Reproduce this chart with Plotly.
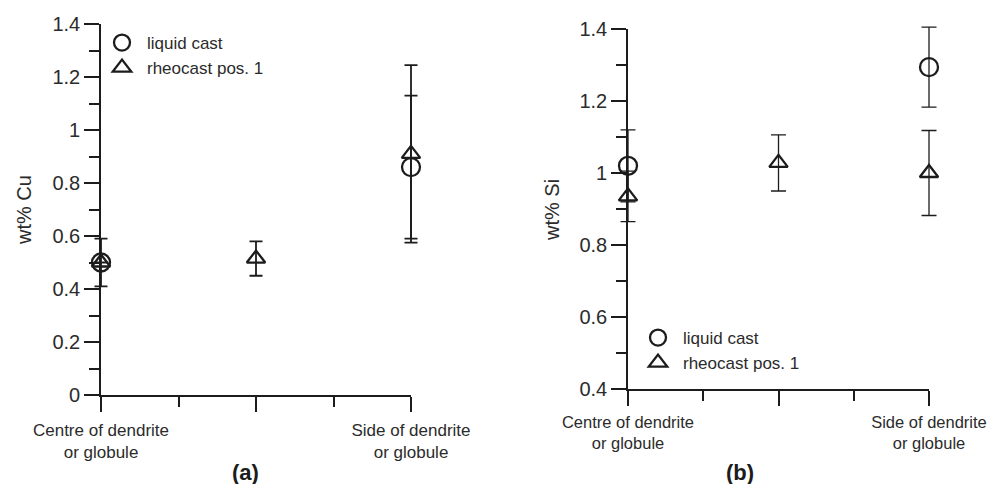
import plotly.graph_objects as go

# ---------------- data ----------------
x_tick_vals = [0, 2, 4]
x_tick_text = ["Centre of dendrite<br>or globule", "", "Side of dendrite<br>or globule"]

# panel (a) wt% Cu
cu_liquid_x = [0, 4]
cu_liquid_y = [0.50, 0.86]
cu_liquid_err = [0.09, 0.27]
cu_rheo_x = [0, 2, 4]
cu_rheo_y = [0.50, 0.515, 0.91]
cu_rheo_err = [0.0, 0.065, 0.335]

# panel (b) wt% Si
si_liquid_x = [0, 4]
si_liquid_y = [1.02, 1.294]
si_liquid_err = [0.10, 0.111]
si_rheo_x = [0, 2, 4]
si_rheo_y = [0.935, 1.028, 1.0]
si_rheo_err = [0.07, 0.078, 0.118]

series_names = ["liquid cast", "rheocast pos. 1"]

# ---------------- styling ----------------
FONT = "Liberation Sans, Arial, sans-serif"
INK = "#1c1c1c"
TXT = "#2b2b2b"
W, H = 992, 484


def px_x(p):
    return p / W


def px_y(p):
    return (H - p) / H


fig = go.Figure()

# empty traces so that the visible (tick-carrying) subplots are created
for xa, ya in (("x", "y"), ("x2", "y2")):
    fig.add_trace(go.Scatter(x=[], y=[], xaxis=xa, yaxis=ya, showlegend=False,
                             hoverinfo="skip", mode="markers"))


def add_series(x, y, err, name, symbol, size, xa, ya, legend, ew, ecap):
    fig.add_trace(go.Scatter(
        x=x, y=y, mode="markers", name=name,
        xaxis=xa, yaxis=ya, legend=legend,
        legendgroup=name + legend,
        cliponaxis=False,
        marker=dict(symbol=symbol, size=size, color=INK, line=dict(width=2.3, color=INK)),
        error_y=dict(type="data", array=err, visible=True, color=INK,
                     thickness=ew, width=ecap),
    ))


# traces drawn on hidden, slightly enlarged axes (same scale as the visible ones)
add_series(cu_liquid_x, cu_liquid_y, cu_liquid_err, series_names[0], "circle-open", 18, "x3", "y3", "legend", 1.8, 6.5)
add_series(cu_rheo_x, cu_rheo_y, cu_rheo_err, series_names[1], "triangle-up-open", 16, "x3", "y3", "legend", 1.8, 6.5)
add_series(si_liquid_x, si_liquid_y, si_liquid_err, series_names[0], "circle-open", 18, "x4", "y4", "legend2", 1.3, 7.5)
add_series(si_rheo_x, si_rheo_y, si_rheo_err, series_names[1], "triangle-up-open", 16, "x4", "y4", "legend2", 1.3, 7.5)

xaxis_common = dict(
    range=[0, 4], tickmode="array", tickvals=x_tick_vals, ticktext=x_tick_text,
    ticks="outside", ticklen=15, tickwidth=1.6, tickcolor=INK,
    showline=True, linecolor=INK, linewidth=1.6,
    showgrid=False, zeroline=False, automargin=False,
    minor=dict(dtick=1, tick0=0, ticks="outside", ticklen=10, tickwidth=1.6, tickcolor=INK, showgrid=False),
    fixedrange=True,
)
yaxis_common = dict(
    ticks="outside", ticklen=15, tickwidth=1.6, tickcolor=INK,
    showline=True, linecolor=INK, linewidth=1.6,
    showgrid=False, zeroline=False, dtick=0.2, automargin=False,
    tickfont=dict(family=FONT, size=20, color=TXT),
    fixedrange=True,
)
hidden = dict(visible=False, fixedrange=True, automargin=False, showgrid=False, zeroline=False)

# plot-area geometry in pixels
ax_a_x0, ax_a_x1 = 101, 411
ax_a_yb, ax_a_yt = 395, 24
ax_b_x0, ax_b_x1 = 628, 929
ax_b_yb, ax_b_yt = 389, 29
PADX, PADY = 25, 20

sa = (ax_a_x1 - ax_a_x0) / 4.0
sya = (ax_a_yb - ax_a_yt) / 1.4
sb = (ax_b_x1 - ax_b_x0) / 4.0
syb = (ax_b_yb - ax_b_yt) / 1.0

fig.update_layout(
    template="none",
    width=W, height=H,
    margin=dict(l=0, r=0, t=0, b=0, autoexpand=False),
    paper_bgcolor="white", plot_bgcolor="rgba(0,0,0,0)",
    font=dict(family=FONT, color=TXT),
    xaxis=dict(xaxis_common, domain=[px_x(ax_a_x0), px_x(ax_a_x1)], anchor="y",
               tickfont=dict(family=FONT, size=17, color=TXT), ticklabelstandoff=4),
    yaxis=dict(yaxis_common, domain=[px_y(ax_a_yb), px_y(ax_a_yt)], range=[0, 1.4], tick0=0,
               minor=dict(dtick=0.1, tick0=0, ticks="outside", ticklen=10, tickwidth=1.6, tickcolor=INK, showgrid=False),
               anchor="x"),
    xaxis2=dict(xaxis_common, domain=[px_x(ax_b_x0), px_x(ax_b_x1)], anchor="y2",
                tickfont=dict(family=FONT, size=16.5, color=TXT), ticklabelstandoff=2),
    yaxis2=dict(yaxis_common, domain=[px_y(ax_b_yb), px_y(ax_b_yt)], range=[0.4, 1.4], tick0=0.4,
                minor=dict(dtick=0.1, tick0=0.4, ticks="outside", ticklen=10, tickwidth=1.6, tickcolor=INK, showgrid=False),
                anchor="x2"),
    xaxis3=dict(hidden, anchor="y3",
                domain=[px_x(ax_a_x0 - PADX), px_x(ax_a_x1 + PADX)],
                range=[0 - PADX / sa, 4 + PADX / sa]),
    yaxis3=dict(hidden, anchor="x3",
                domain=[px_y(ax_a_yb + PADY), px_y(ax_a_yt - PADY)],
                range=[0 - PADY / sya, 1.4 + PADY / sya]),
    xaxis4=dict(hidden, anchor="y4",
                domain=[px_x(ax_b_x0 - PADX), px_x(ax_b_x1 + PADX)],
                range=[0 - PADX / sb, 4 + PADX / sb]),
    yaxis4=dict(hidden, anchor="x4",
                domain=[px_y(ax_b_yb + PADY), px_y(ax_b_yt - PADY)],
                range=[0.4 - PADY / syb, 1.4 + PADY / syb]),
    legend=dict(x=px_x(97), y=px_y(25), xanchor="left", yanchor="top",
                bgcolor="rgba(0,0,0,0)", font=dict(family=FONT, size=17, color=TXT),
                tracegroupgap=0, itemwidth=40),
    legend2=dict(x=px_x(633), y=px_y(320), xanchor="left", yanchor="top",
                 bgcolor="rgba(0,0,0,0)", font=dict(family=FONT, size=17, color=TXT),
                 tracegroupgap=0, itemwidth=40),
    showlegend=True,
    annotations=[
        dict(text="wt% Cu", x=px_x(24), y=px_y(210), xref="paper", yref="paper",
             textangle=-90, showarrow=False, font=dict(family=FONT, size=20, color=TXT),
             xanchor="center", yanchor="middle"),
        dict(text="wt% Si", x=px_x(552), y=px_y(210), xref="paper", yref="paper",
             textangle=-90, showarrow=False, font=dict(family=FONT, size=20, color=TXT),
             xanchor="center", yanchor="middle"),
        dict(text="<b>(a)</b>", x=px_x(245), y=px_y(472), xref="paper", yref="paper",
             showarrow=False, font=dict(family=FONT, size=22, color=INK),
             xanchor="center", yanchor="middle"),
        dict(text="<b>(b)</b>", x=px_x(740), y=px_y(472), xref="paper", yref="paper",
             showarrow=False, font=dict(family=FONT, size=22, color=INK),
             xanchor="center", yanchor="middle"),
    ],
)

fig.write_html("out.html")
